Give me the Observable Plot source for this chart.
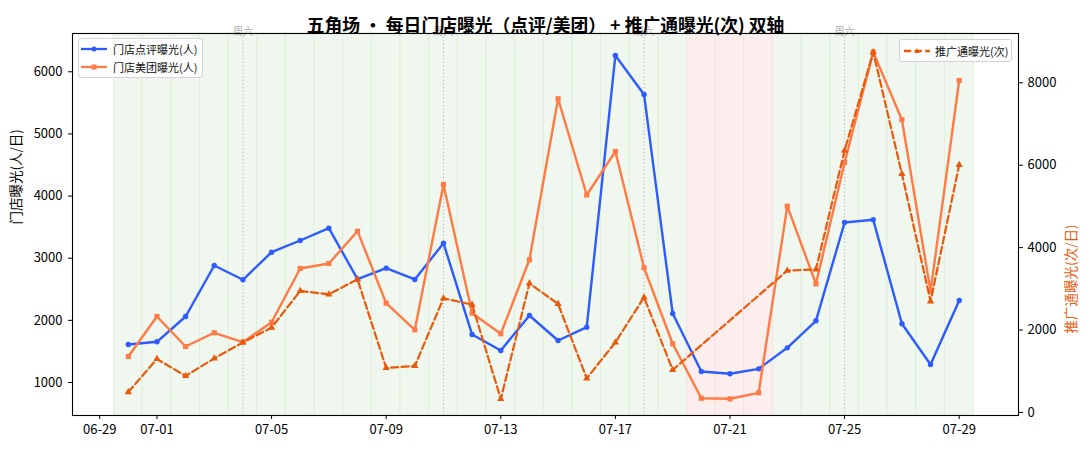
<!DOCTYPE html>
<html><head><meta charset="utf-8">
<script src="https://cdn.jsdelivr.net/npm/d3@7"></script>
<script src="https://cdn.jsdelivr.net/npm/@observablehq/plot@0.6"></script>
<style>
body{margin:0;background:#fff;font-family:"Noto Sans CJK SC","Noto Sans",sans-serif;color:#000}
#wrap{position:relative;width:1090px;height:450px;overflow:hidden;background:#fff}
#wrap svg.plot{position:absolute;left:0;top:0}
.legend{position:absolute;background:rgba(255,255,255,0.85);border:1px solid #d3d3d3;border-radius:3px;box-sizing:border-box}
.sw{position:absolute}
.lt{position:absolute;font-size:11px;line-height:1;white-space:nowrap;transform:translateY(-50%);color:#111}
</style></head><body><div id="wrap"></div><script>
const year = 2026;
const dates = ["06-30","07-01","07-02","07-03","07-04","07-05","07-06","07-07","07-08","07-09",
  "07-10","07-11","07-12","07-13","07-14","07-15","07-16","07-17","07-18","07-19",
  "07-20","07-21","07-22","07-23","07-24","07-25","07-26","07-27","07-28","07-29"];
const dianping = [1611,1655,2062,2883,2653,3097,3285,3483,2663,2840,
  2658,3242,1772,1515,2078,1676,1890,6262,5635,2110,
  1177,1140,1220,1558,1993,3575,3618,1945,1290,2320];
const meituan = [1418,2062,1579,1800,1649,1970,2835,2915,3435,2276,
  1848,4186,2115,1784,2975,5566,4017,4717,2846,1623,
  747,738,834,3837,2588,4540,6316,5228,2470,5860];
const tuiguang = [494,1297,884,1312,1700,2057,2949,2866,3231,1078,
  1127,2769,2616,325,3134,2633,826,1700,2793,1030,
  null,null,null,3442,3473,6357,8744,5790,2696,6009];
const alertDays = ["07-20","07-21","07-22"];
const xTickLabels = ["06-29","07-01","07-05","07-09","07-13","07-17","07-21","07-25","07-29"];
const leftTicks = [1000,2000,3000,4000,5000,6000];
const rightTicks = [0,2000,4000,6000,8000];
const seriesNames = ["门店点评曝光(人)","门店美团曝光(人)","推广通曝光(次)"];
const titleText = "五角场 · 每日门店曝光（点评/美团） + 推广通曝光(次) 双轴";
const leftLabel = "门店曝光(人/日)";
const rightLabel = "推广通曝光(次/日)";
const satLabel = "周六";

const BLUE = "#2d5bff", ORANGE = "#ff7a45", DORANGE = "#e8590c";
const FONT = '"Noto Sans CJK SC","Noto Sans",sans-serif';

const toDate = s => new Date(Date.UTC(year, +s.slice(0,2) - 1, +s.slice(3)));
const HALF = 12 * 3600 * 1000;

// scales: left domain and right domain (twin axis mapped onto left)
const L0 = 469, L1 = 6616, R0 = -75, R1 = 9197;
const yR = r => L0 + (r - R0) * (L1 - L0) / (R1 - R0);
const yRinv = v => Math.round(R0 + (v - L0) * (R1 - R0) / (L1 - L0));

const rows = dates.map((s, i) => ({date: toDate(s), dp: dianping[i], mt: meituan[i], tg: tuiguang[i]}));
const tgRows = rows.filter(d => d.tg != null).map(d => ({date: d.date, v: yR(d.tg)}));
const bands = dates.map(s => ({x1: new Date(+toDate(s) - HALF), x2: new Date(+toDate(s) + HALF), alert: alertDays.includes(s)}));
const sats = dates.map(toDate).filter(d => d.getUTCDay() === 6);

const chart = Plot.plot({
  width: 1090, height: 450,
  marginLeft: 72, marginRight: 72, marginTop: 33, marginBottom: 35,
  style: {fontFamily: FONT, fontSize: "13px", background: "transparent", overflow: "visible", color: "#000"},
  x: {type: "utc", domain: [new Date(Date.UTC(year,5,28,1,15)), new Date(Date.UTC(year,6,31,1,40))]},
  y: {domain: [L0, L1]},
  marks: [
    Plot.rect(bands.filter(d => !d.alert), {x1: "x1", x2: "x2", fill: "#eff7ee", stroke: "#dcefda", strokeWidth: 0.9}),
    Plot.rect(bands.filter(d => d.alert), {x1: "x1", x2: "x2", fill: "#fdeeee", stroke: "#f6dfdf", strokeWidth: 0.9}),
    Plot.ruleX(sats, {x: d => d, stroke: "#a8a8a8", strokeWidth: 0.9, strokeDasharray: "1.2,2.4"}),
    Plot.text(sats, {x: d => d, frameAnchor: "top", dy: -6, text: () => satLabel, fill: "#aaaaaa", fontSize: 10}),
    Plot.line(rows, {x: "date", y: "dp", stroke: BLUE, strokeWidth: 2.4}),
    Plot.dot(rows, {x: "date", y: "dp", symbol: "circle", fill: BLUE, stroke: null, r: 2.7}),
    Plot.line(rows, {x: "date", y: "mt", stroke: ORANGE, strokeWidth: 2.4}),
    Plot.dot(rows, {x: "date", y: "mt", symbol: "square", fill: ORANGE, stroke: null, r: 2.9}),
    Plot.line(tgRows, {x: "date", y: "v", stroke: DORANGE, strokeWidth: 2.2, strokeDasharray: "7.2,3.4"}),
    Plot.dot(tgRows, {x: "date", y: "v", symbol: "triangle", fill: DORANGE, stroke: null, r: 2.7}),
    Plot.axisX(xTickLabels.map(toDate), {tickFormat: d => d3.utcFormat("%m-%d")(d), tickSize: 4, tickPadding: 5, fontSize: 13, label: null}),
    Plot.axisY(leftTicks, {anchor: "left", tickFormat: d => String(d), tickSize: 4, tickPadding: 6, fontSize: 13, label: null}),
    Plot.axisY(rightTicks.map(yR), {anchor: "right", tickFormat: v => String(yRinv(v)), tickSize: 4, tickPadding: 5, fontSize: 13, label: null}),
    Plot.frame({stroke: "#000", strokeWidth: 1.1}),
    Plot.text([titleText], {frameAnchor: "top", dy: -14, text: d => d, fontSize: 17.8, fontWeight: "bold", fill: "#000"}),
    Plot.text([leftLabel], {frameAnchor: "left", dx: -56, rotate: -90, text: d => d, fontSize: 13.5, fill: "#000"}),
    Plot.text([rightLabel], {frameAnchor: "right", dx: 53, rotate: -90, text: d => d, fontSize: 13.5, fill: DORANGE})
  ]
});
const wrap = document.getElementById("wrap");
wrap.appendChild(chart);

function swatch(color, symbol, dashed) {
  const ns = "http://www.w3.org/2000/svg";
  const svg = document.createElementNS(ns, "svg");
  svg.setAttribute("width", 26); svg.setAttribute("height", 10);
  const line = document.createElementNS(ns, "line");
  line.setAttribute("x1", 0); line.setAttribute("x2", 26); line.setAttribute("y1", 5); line.setAttribute("y2", 5);
  line.setAttribute("stroke", color); line.setAttribute("stroke-width", 2.3);
  if (dashed) line.setAttribute("stroke-dasharray", "7.2,3.4");
  svg.appendChild(line);
  let m;
  if (symbol === "circle") { m = document.createElementNS(ns, "circle"); m.setAttribute("cx", 13); m.setAttribute("cy", 5); m.setAttribute("r", 2.5); }
  else if (symbol === "square") { m = document.createElementNS(ns, "rect"); m.setAttribute("x", 10.5); m.setAttribute("y", 2.5); m.setAttribute("width", 5); m.setAttribute("height", 5); }
  else { m = document.createElementNS(ns, "path"); m.setAttribute("d", "M13,2.2L15.6,7L10.4,7Z"); }
  m.setAttribute("fill", color);
  svg.appendChild(m);
  return svg;
}
function legend(box, items) {
  const d = document.createElement("div");
  d.className = "legend";
  Object.assign(d.style, {left: box.x + "px", top: box.y + "px", width: box.w + "px", height: box.h + "px"});
  items.forEach(it => {
    const s = swatch(it.color, it.symbol, it.dashed);
    s.setAttribute("class", "sw");
    s.style.left = it.sx + "px"; s.style.top = (it.cy - 5) + "px";
    d.appendChild(s);
    const t = document.createElement("span");
    t.className = "lt"; t.textContent = it.name;
    t.style.left = it.tx + "px"; t.style.top = it.cy + "px";
    d.appendChild(t);
  });
  wrap.appendChild(d);
}
legend({x: 78, y: 38, w: 125, h: 40}, [
  {name: seriesNames[0], color: BLUE, symbol: "circle", sx: 2, tx: 34, cy: 10},
  {name: seriesNames[1], color: ORANGE, symbol: "square", sx: 2, tx: 34, cy: 28}
]);
legend({x: 899, y: 39, w: 113, h: 23}, [
  {name: seriesNames[2], color: DORANGE, symbol: "triangle", dashed: true, sx: 4, tx: 35, cy: 11}
]);
</script></body></html>
